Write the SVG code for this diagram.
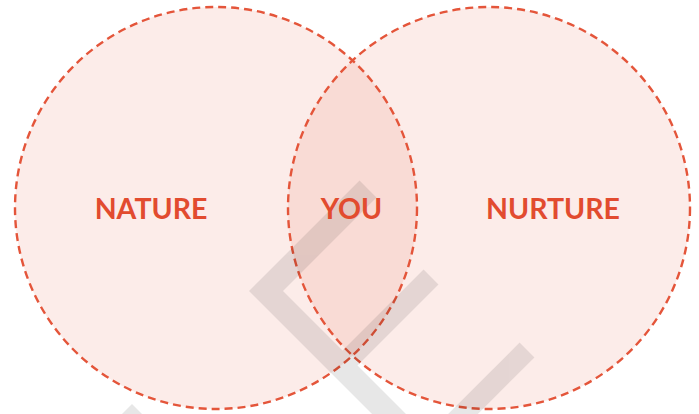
<svg xmlns="http://www.w3.org/2000/svg" width="699" height="414" viewBox="0 0 699 414">
  <style>
    .set { fill: #e8593c; fill-opacity: 0.114; stroke: #e4553a; stroke-width: 2.4; stroke-dasharray: 8 5; }
    .lbl { font-family: Lato, "Open Sans", sans-serif; font-weight: 700; font-size: 28.5px; fill: #e24b2f; text-anchor: middle; }
    .wm { fill: none; stroke: #000; stroke-linejoin: miter; stroke-linecap: butt; }
  </style>
  <rect width="699" height="414" fill="#ffffff"/>
  <g id="nature">
    <circle class="set" cx="216" cy="208" r="201"/>
  </g>
  <g id="nurture">
    <circle class="set" cx="489" cy="208" r="201"/>
  </g>
  <g id="watermark" opacity="0.09">
    <polyline class="wm" stroke-width="24" points="368,189 266,291 401,426"/>
    <line class="wm" stroke-width="21" x1="431" y1="277" x2="342" y2="366"/>
    <line class="wm" stroke-width="21" x1="527" y1="350" x2="450" y2="427"/>
    <polygon points="132,404 122,414 142,414" fill="#000"/>
  </g>
  <g id="labels">
    <text class="lbl" x="151" y="219">NATURE</text>
    <text class="lbl" x="351.5" y="219">YOU</text>
    <text class="lbl" x="553" y="219">NURTURE</text>
  </g>
</svg>
